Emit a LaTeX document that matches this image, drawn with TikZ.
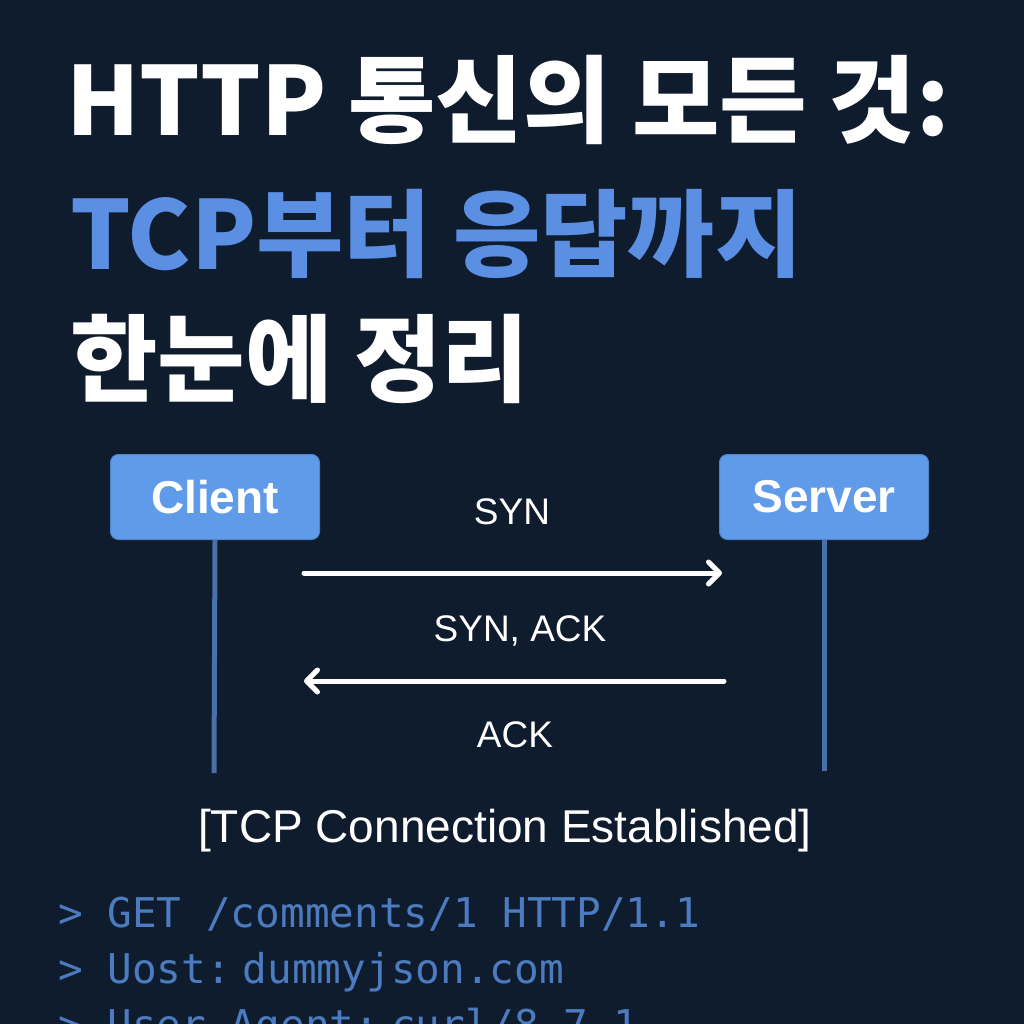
\documentclass[tikz,border=0pt]{standalone}
\usepackage{fontspec}
\usetikzlibrary{arrows.meta}
\newfontfamily\krfont{Noto Sans CJK KR}
\newfontfamily\lblfont{Liberation Sans}
\newfontfamily\codefont{DejaVu Sans Mono}
\definecolor{bgnavy}{HTML}{0F1C2E}
\definecolor{titleblue}{HTML}{5A8FE3}
\definecolor{boxblue}{HTML}{5F9BE9}
\definecolor{lifeblue}{HTML}{4A70A8}
\definecolor{codeblue}{HTML}{4C7BBF}
\tikzset{
  titletext/.style={anchor=base west, inner sep=0pt, font=\krfont\bfseries\fontsize{95}{100}\selectfont},
  actor/.style={draw=boxblue!85!black, line width=1pt, fill=boxblue, rounded corners=8pt, minimum width=209pt, minimum height=85pt, text=white, font=\lblfont\bfseries\fontsize{46}{50}\selectfont, inner sep=0pt},
  lifeline/.style={draw=lifeblue, line width=5pt},
  msg/.style={draw=white, line width=5pt, line cap=round, -{Straight Barb[length=11pt, width=22pt, line cap=round, line join=round]}},
  msglabel/.style={text=white, inner sep=0pt, anchor=base, font=\lblfont\fontsize{37}{40}\selectfont},
  codeline/.style={anchor=base west, inner sep=0pt, text=codeblue, font=\codefont\fontsize{41}{48}\selectfont}
}
\begin{document}
\begin{tikzpicture}[x=1pt, y=-1pt]
\useasboundingbox (0,0) rectangle (1024,1024);
\clip (0,0) rectangle (1024,1024);
\fill[bgnavy] (0,0) rectangle (1024,1024);

% Title
\node[titletext, text=white] (t1) at (66,136) {HTTP 통신의 모든 것:};
\node[titletext, text=titleblue] (t2) at (70,269) {TCP부터 응답까지};
\node[titletext, text=white] (t3) at (70,394) {한눈에 정리};

% Actors
\node[actor] (client) at (215,497) {Client};
\node[actor] (server) at (824,497) {Server};

% Lifelines
\coordinate (cend) at (214,773);
\coordinate (send) at (824,771);
\draw[lifeline] (client.south) -- (cend);
\draw[lifeline] (server.south) -- (send);

% Message anchor points on lifelines
\coordinate (c1) at (214,573);
\coordinate (s1) at (824,573);
\coordinate (c2) at (214,681);
\coordinate (s2) at (824,681);

\node[msglabel] (syn) at (512,524) {SYN};
\draw[msg, shorten <=90pt, shorten >=102pt] (c1) -- (s1);
\node[msglabel] (synack) at (520,641) {SYN, ACK};
\draw[msg, shorten <=100pt, shorten >=90pt] (s2) -- (c2);
\node[msglabel] (ack) at (515,747) {ACK};

\node[text=white, inner sep=0pt, anchor=base, font=\lblfont\fontsize{46}{50}\selectfont] (est) at (505,842) {[TCP Connection Established]};

% Code
\node[codeline] (code1) at (58,927) {> GET /comments/1 HTTP/1.1};
\node[codeline] (code2) at (58,983) {> Uost:\hspace{12pt}dummyjson.com};
\node[codeline] (code3) at (58,1039) {> User-Agent:\hspace{12pt}curl/8.7.1};
\end{tikzpicture}
\end{document}
